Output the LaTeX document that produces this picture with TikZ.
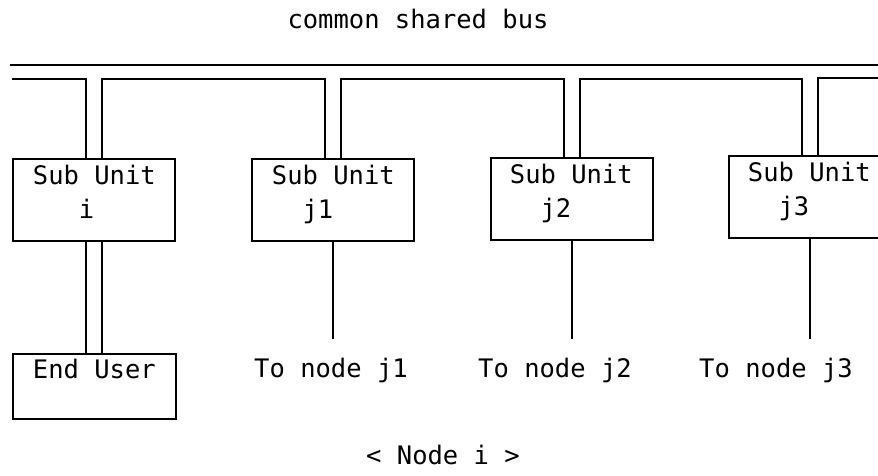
\documentclass[tikz,border=0pt]{standalone}
\usepackage{fontspec}
\setmonofont{DejaVu Sans Mono}
\usepackage{tikz}
\usetikzlibrary{positioning}

\begin{document}
\begin{tikzpicture}[x = 1pt, y = -1pt, line width = 1.8pt,
  every node/.style = {font = \ttfamily\fontsize{25.5}{34}\selectfont},
  unit/.style = {draw, anchor = north west, minimum width = 162pt, minimum height = 82pt, inner sep = 0pt},
  unittext/.style = {align = left, inner sep = 0pt},
  tonode/.style = {anchor = base, inner sep = 0pt},
  drop/.style = {shorten > = 18pt}]
\useasboundingbox (0,0) rectangle (878,475);
\clip (0,0) rectangle (878,475);
\node[anchor = base] (bus) at (418,28) {common shared bus};
\coordinate (busA) at (10,65);
\coordinate (busB) at (890,65);
\coordinate (lowA) at (12,79);
\coordinate (lowB) at (890,78);
\draw (busA) -- (busB);
\node[unit] (si) at (12,158) {};
\node[unit] (sj1) at (251,158) {};
\node[unit] (sj2) at (490,157) {};
\node[unit] (sj3) at (728,155) {};
\node[unit, minimum width = 163pt, minimum height = 65pt] (user) at (12,353) {};
\node[unittext, below right = 6pt and 20pt of si.north west] (lsi) {Sub Unit\\\phantom{Sub}i};
\node[unittext, below right = 6pt and 20pt of sj1.north west] (lsj1) {Sub Unit\\\phantom{Su}j1};
\node[unittext, below right = 6pt and 19pt of sj2.north west] (lsj2) {Sub Unit\\\phantom{Su}j2};
\node[unittext, below right = 6pt and 19pt of sj3.north west] (lsj3) {Sub Unit\\\phantom{Su}j3};
\node[unittext, below right = 5pt and 20pt of user.north west] (luser) {End User};
\node[tonode] (tj1) at (331,377) {To node j1};
\node[tonode] (tj2) at (555,377) {To node j2};
\node[tonode] (tj3) at (776,377) {To node j3};
\node[tonode] (nodei) at (443,464) {< Node i >};
\coordinate (si l) at ([xshift = -8pt]si.north);
\coordinate (si r) at ([xshift = 8pt]si.north);
\coordinate (sj1 l) at ([xshift = -8pt]sj1.north);
\coordinate (sj1 r) at ([xshift = 8pt]sj1.north);
\coordinate (sj2 l) at ([xshift = -8pt]sj2.north);
\coordinate (sj2 r) at ([xshift = 8pt]sj2.north);
\coordinate (sj3 l) at ([xshift = -8pt]sj3.north);
\coordinate (sj3 r) at ([xshift = 8pt]sj3.north);
\draw (lowA) -| (si l);
\draw (si r) |- (lowA -| sj1 l) -- (sj1 l);
\draw (sj1 r) |- (lowA -| sj2 l) -- (sj2 l);
\draw (sj2 r) |- (lowA -| sj3 l) -- (sj3 l);
\draw (sj3 r) |- (lowB);
\draw ([xshift = -8pt]si.south) -- ([xshift = -8pt]si.south |- user.north);
\draw ([xshift = 8pt]si.south) -- ([xshift = 8pt]si.south |- user.north);
\draw[drop] (sj1.south) -- (sj1.south |- tj1.north);
\draw[drop] (sj2.south) -- (sj2.south |- tj2.north);
\draw[drop] (sj3.south) -- (sj3.south |- tj3.north);
\end{tikzpicture}
\end{document}
